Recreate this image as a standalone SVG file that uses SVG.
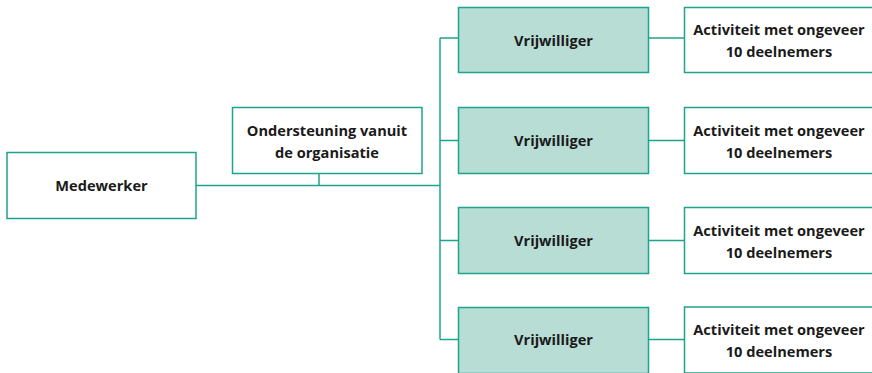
<svg xmlns="http://www.w3.org/2000/svg" width="872" height="373" viewBox="0 0 872 373">
<style>
.box{fill:#ffffff;stroke:#1fa38c;stroke-width:1.5}
.vol{fill:#b8ddd5;stroke:#1fa38c;stroke-width:1.5}
.ln{fill:none;stroke:#1fa38c;stroke-width:1.5}
text{font-family:"Open Sans","Noto Sans",sans-serif;font-weight:bold;font-size:14.6px;fill:#1a1a1a;text-anchor:middle}
</style>
<rect width="872" height="373" fill="#ffffff"/>
<g id="connectors">
<path class="ln" d="M196,185.5 H440"/>
<path class="ln" d="M319,173.5 V185.5"/>
<path class="ln" d="M440,38 V339.5"/>
<path class="ln" d="M440,38 H458"/>
<path class="ln" d="M440,140.5 H458"/>
<path class="ln" d="M440,240.5 H458"/>
<path class="ln" d="M440,339.5 H458"/>
<path class="ln" d="M648,38 H684"/>
<path class="ln" d="M648,140.5 H684"/>
<path class="ln" d="M648,240.5 H684"/>
<path class="ln" d="M648,339.5 H684"/>
</g>
<g id="medewerker">
<rect class="box" x="7" y="152.5" width="189" height="66"/>
<text x="101.5" y="190.5">Medewerker</text>
</g>
<g id="ondersteuning">
<rect class="box" x="232.5" y="107.5" width="189.5" height="66"/>
<text x="327" y="135.5">Ondersteuning vanuit</text>
<text x="327" y="157.5">de organisatie</text>
</g>
<g id="vrijwilliger1">
<rect class="vol" x="458.5" y="7.5" width="190" height="65"/>
<text x="553.5" y="46">Vrijwilliger</text>
</g>
<g id="vrijwilliger2">
<rect class="vol" x="458.5" y="107.5" width="190" height="66"/>
<text x="553.5" y="146">Vrijwilliger</text>
</g>
<g id="vrijwilliger3">
<rect class="vol" x="458.5" y="207.5" width="190" height="66"/>
<text x="553.5" y="246">Vrijwilliger</text>
</g>
<g id="vrijwilliger4">
<rect class="vol" x="458.5" y="307.5" width="190" height="66"/>
<text x="553.5" y="345">Vrijwilliger</text>
</g>
<g id="activiteit1">
<rect class="box" x="684.5" y="7.5" width="190" height="65"/>
<text x="779" y="35">Activiteit met ongeveer</text>
<text x="779" y="57">10 deelnemers</text>
</g>
<g id="activiteit2">
<rect class="box" x="684.5" y="107.5" width="190" height="66"/>
<text x="779" y="135.5">Activiteit met ongeveer</text>
<text x="779" y="157.5">10 deelnemers</text>
</g>
<g id="activiteit3">
<rect class="box" x="684.5" y="207.5" width="190" height="66"/>
<text x="779" y="235.5">Activiteit met ongeveer</text>
<text x="779" y="257.5">10 deelnemers</text>
</g>
<g id="activiteit4">
<rect class="box" x="684.5" y="307" width="190" height="66"/>
<text x="779" y="334.5">Activiteit met ongeveer</text>
<text x="779" y="356.5">10 deelnemers</text>
</g>
</svg>
